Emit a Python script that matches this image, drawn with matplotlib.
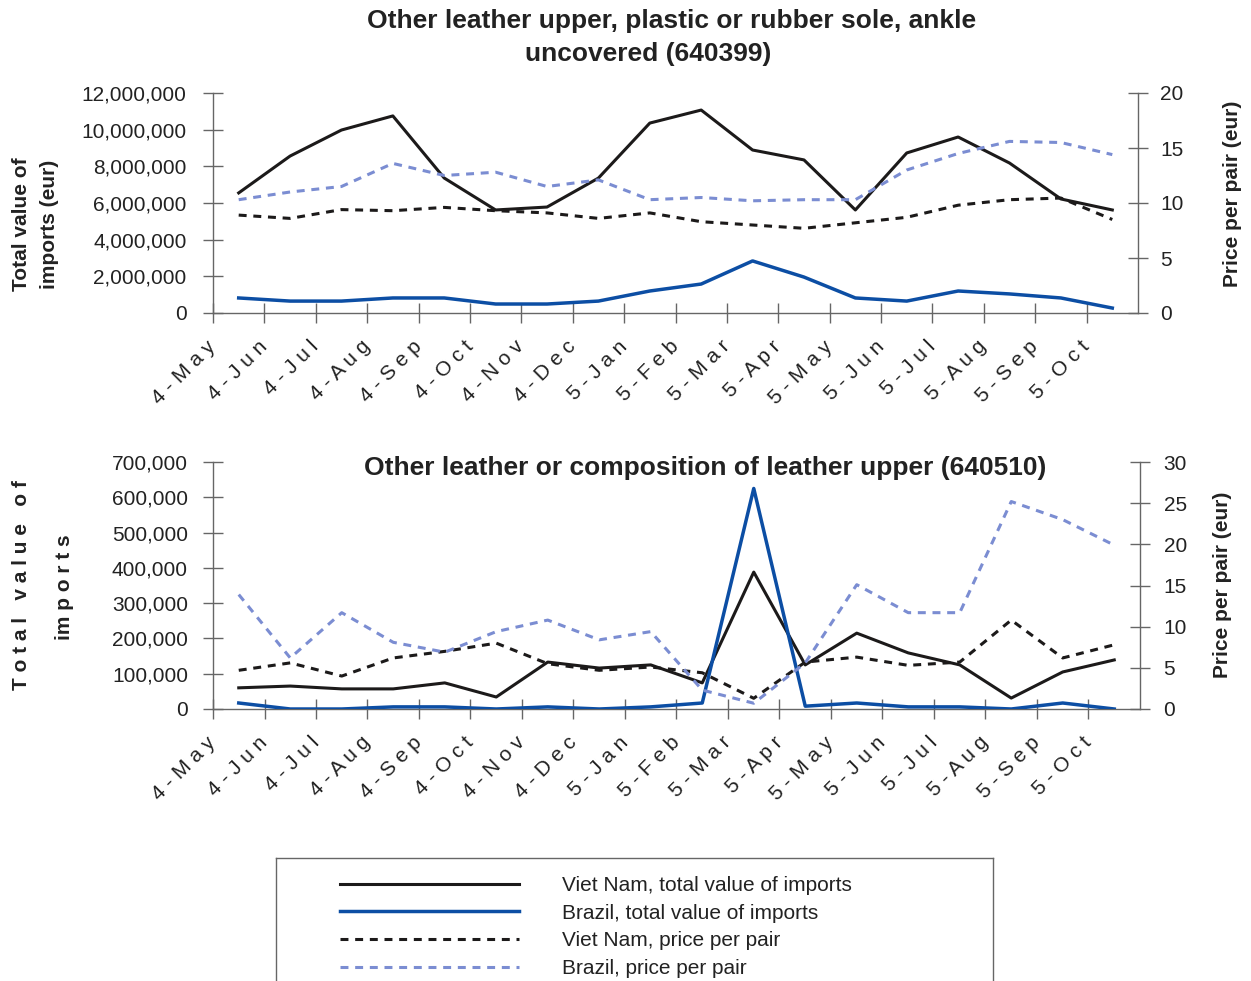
import matplotlib
matplotlib.use("Agg")
import matplotlib.pyplot as plt
from matplotlib.ticker import FuncFormatter, FixedLocator

plt.rcParams["font.family"] = ["Liberation Sans", "DejaVu Sans"]

# ---- data -------------------------------------------------------------
months = ["4 - M a y", "4 - J u n", "4 - J u l", "4 - A u g", "4 - S e p",
          "4 - O c t", "4 - N o v", "4 - D e c", "5 - J a n", "5 - F e b",
          "5 - M a r", "5 - A p r", "5 - M a y", "5 - J u n", "5 - J u l",
          "5 - A u g", "5 - S e p", "5 - O c t"]

# 640399 - total value of imports (eur) and price per pair (eur)
vn_total_1 = [6.55e6, 8.56e6, 9.98e6, 10.75e6, 7.36e6, 5.62e6, 5.78e6, 7.36e6,
              10.36e6, 11.07e6, 8.89e6, 8.35e6, 5.62e6, 8.73e6, 9.6e6, 8.18e6,
              6.22e6, 5.62e6]
br_total_1 = [0.82e6, 0.65e6, 0.65e6, 0.82e6, 0.82e6, 0.49e6, 0.49e6, 0.65e6,
              1.2e6, 1.58e6, 2.84e6, 1.96e6, 0.82e6, 0.65e6, 1.2e6, 1.04e6,
              0.82e6, 0.27e6]
vn_price_1 = [8.9, 8.6, 9.4, 9.3, 9.6, 9.3, 9.1, 8.6, 9.1, 8.3, 8.0, 7.7,
              8.2, 8.7, 9.8, 10.3, 10.45, 8.5]
br_price_1 = [10.3, 11.0, 11.5, 13.6, 12.5, 12.8, 11.5, 12.1, 10.3, 10.5, 10.2,
              10.3, 10.3, 13.0, 14.5, 15.6, 15.5, 14.4]

# 640510
vn_total_2 = [60e3, 65e3, 57e3, 57e3, 74e3, 34e3, 133e3, 116e3, 125e3, 74e3,
              388e3, 125e3, 215e3, 159e3, 125e3, 31e3, 105e3, 139e3]
br_total_2 = [17e3, 0, 0, 6e3, 6e3, 0, 6e3, 0, 6e3, 17e3, 625e3, 8e3, 17e3,
              6e3, 6e3, 0, 17e3, 0]
vn_price_2 = [4.7, 5.6, 4.0, 6.2, 7.0, 8.0, 5.5, 4.7, 5.1, 4.4, 1.3, 5.7, 6.3,
              5.3, 5.7, 10.8, 6.2, 7.8]
br_price_2 = [13.9, 6.2, 11.7, 8.1, 6.9, 9.4, 10.8, 8.4, 9.4, 2.3, 0.7, 5.6,
              15.1, 11.7, 11.7, 25.2, 23.0, 19.9]

series_labels = ["Viet Nam, total value of imports", "Brazil, total value of imports",
                 "Viet Nam, price per pair", "Brazil, price per pair"]

# ---- style --------------------------------------------------------------
BLACK = "#1c1a1a"
BLUE = "#0c4ea4"
LIGHT = "#7b8dd2"
AXIS = "#666666"
TXT = "#222222"

W, H = 1251, 981
fig = plt.figure(figsize=(W / 100, H / 100), dpi=100)


def frac_rect(x0, y0, x1, y1):
    return [x0 / W, 1 - y1 / H, (x1 - x0) / W, (y1 - y0) / H]


def setup(ax, ax2, ymax, ystep, y2max, y2step, lpad, rpad):
    n = len(months)
    xs = [i + 0.5 for i in range(n)]
    ax.set_xlim(0, n)
    ax.set_ylim(0, ymax)
    ax2.set_ylim(0, y2max)
    ax.xaxis.set_major_locator(FixedLocator(range(n)))
    ax.set_xticklabels(months, rotation=45, ha="right", va="center",
                       rotation_mode="anchor", color=TXT)
    ax.set_yticks([ystep * k for k in range(int(round(ymax / ystep)) + 1)])
    ax.yaxis.set_major_formatter(FuncFormatter(lambda v, p: f"{v:,.0f}"))
    ax2.set_yticks([y2step * k for k in range(int(round(y2max / y2step)) + 1)])
    for a in (ax, ax2):
        for s in a.spines.values():
            s.set_visible(False)
        a.tick_params(colors=AXIS, labelcolor=TXT, labelsize=15,
                      direction="inout", length=14, width=1)
    ax.spines["left"].set_visible(True)
    ax.spines["bottom"].set_visible(True)
    ax2.spines["right"].set_visible(True)
    for s in (ax.spines["left"], ax.spines["bottom"], ax2.spines["right"]):
        s.set_color(AXIS)
        s.set_linewidth(1)
    ax.tick_params(axis="x", pad=15, labelsize=15)
    ax.tick_params(axis="y", pad=lpad)
    ax2.tick_params(axis="y", pad=rpad)
    ax.patch.set_visible(False)
    return xs


def draw(ax, ax2, xs, vt, bt, vp, bp):
    h = []
    h += ax.plot(xs, vt, color=BLACK, lw=2.2, zorder=3)
    h += ax.plot(xs, bt, color=BLUE, lw=2.5, zorder=3)
    h += ax2.plot(xs, vp, color=BLACK, lw=2.2, dashes=(2.6, 2.2))
    h += ax2.plot(xs, bp, color=LIGHT, lw=2.2, dashes=(2.6, 2.2))
    return h


# ---- top panel ----------------------------------------------------------
ax1 = fig.add_axes(frac_rect(213, 93, 1138, 313))
ax1b = ax1.twinx()
xs = setup(ax1, ax1b, 12e6, 2e6, 20, 5, 12, 9)
handles = draw(ax1, ax1b, xs, vn_total_1, br_total_1, vn_price_1, br_price_1)

fig.text(672 / W, 1 - 21 / H, "Other leather upper, plastic or rubber sole, ankle",
         ha="center", va="center", fontsize=19, fontweight="bold", color=TXT)
fig.text(648 / W, 1 - 54 / H, "uncovered (640399)",
         ha="center", va="center", fontsize=19, fontweight="bold", color=TXT)

fig.text(22 / W, 1 - 224 / H, "Total value of", rotation=90, ha="center",
         va="center", fontsize=15, fontweight="bold", color=TXT)
fig.text(50 / W, 1 - 224 / H, "imports (eur)", rotation=90, ha="center",
         va="center", fontsize=15, fontweight="bold", color=TXT)
fig.text(1233 / W, 1 - 194 / H, "Price per pair (eur)", rotation=90,
         ha="center", va="center", fontsize=15, fontweight="bold", color=TXT)

# ---- bottom panel -------------------------------------------------------
ax2 = fig.add_axes(frac_rect(213, 462, 1140, 709))
ax2b = ax2.twinx()
xs = setup(ax2, ax2b, 700e3, 100e3, 30, 5, 11, 10)
draw(ax2, ax2b, xs, vn_total_2, br_total_2, vn_price_2, br_price_2)

fig.text(705 / W, 1 - 468 / H, "Other leather or composition of leather upper (640510)",
         ha="center", va="center", fontsize=19, fontweight="bold", color=TXT)
fig.text(22 / W, 1 - 585 / H, "T o t a l   v a l u e   o f", rotation=90,
         ha="center", va="center", fontsize=15, fontweight="bold", color=TXT)
fig.text(65 / W, 1 - 587 / H, "im p o r t s", rotation=90,
         ha="center", va="center", fontsize=15, fontweight="bold", color=TXT)
fig.text(1223 / W, 1 - 585 / H, "Price per pair (eur)", rotation=90,
         ha="center", va="center", fontsize=15, fontweight="bold", color=TXT)

# ---- legend box ---------------------------------------------------------
lax = fig.add_axes(frac_rect(276, 858, 993, 1000))
lax.set_xticks([])
lax.set_yticks([])
for s in lax.spines.values():
    s.set_color(AXIS)
    s.set_linewidth(1)
lax.legend(handles, series_labels, loc="upper left",
           bbox_to_anchor=(340 / W, 1 - 876 / H), bbox_transform=fig.transFigure,
           frameon=False, fontsize=15, handlelength=8.6, handletextpad=2.05,
           labelspacing=0.42, borderpad=0, borderaxespad=0, labelcolor=TXT)

fig.savefig("out.png", dpi=100)
